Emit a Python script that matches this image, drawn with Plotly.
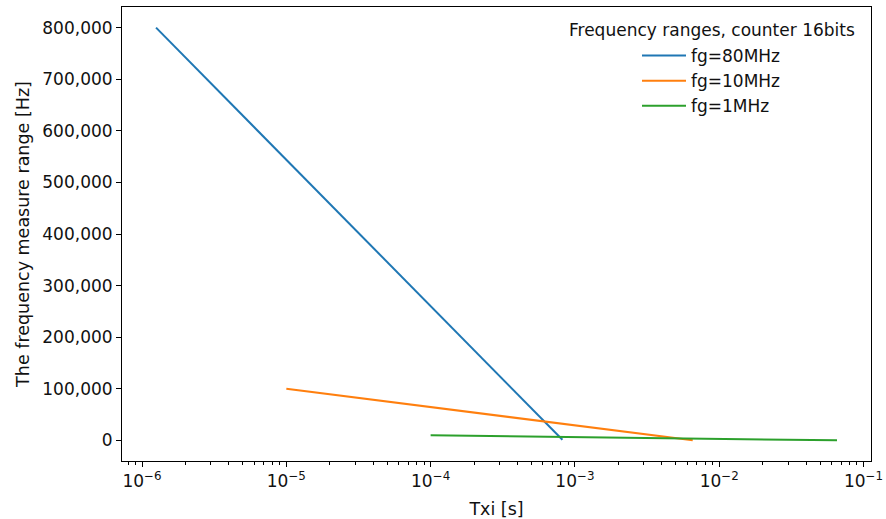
import plotly.graph_objects as go

# Data (Txi [s] vs. frequency measure range [Hz])
names = ["fg=80MHz", "fg=10MHz", "fg=1MHz"]
colors = ["#1f77b4", "#ff7f0e", "#2ca02c"]
txi_80 = [1.25e-6, 8.192e-4]
f_80 = [800000, 1220.7]
txi_10 = [1.0e-5, 6.5536e-3]
f_10 = [100000, 152.6]
txi_1 = [1.0e-4, 6.5536e-2]
f_1 = [10000, 15.26]
y_ticks = [0, 100000, 200000, 300000, 400000, 500000, 600000, 700000, 800000]
x_ticks = [1e-6, 1e-5, 1e-4, 1e-3, 1e-2, 1e-1]
x_tick_text = ["10<sup>−6</sup>", "10<sup>−5</sup>", "10<sup>−4</sup>",
               "10<sup>−3</sup>", "10<sup>−2</sup>", "10<sup>−1</sup>"]

series_x = [txi_80, txi_10, txi_1]
series_y = [f_80, f_10, f_1]

fig = go.Figure()
for n, c, xs, ys in zip(names, colors, series_x, series_y):
    fig.add_trace(go.Scatter(x=xs, y=ys, mode="lines", name=n,
                             line=dict(color=c, width=2)))

FONT = "DejaVu Sans"
L, R, T, B = 122, 15, 7, 58
pw, ph = 886 - L - R, 519 - T - B

fig.update_layout(
    width=886, height=519,
    margin=dict(l=L, r=R, t=T, b=B, autoexpand=False),
    paper_bgcolor="white", plot_bgcolor="white",
    font=dict(family=FONT, size=17, color="#111"),
    showlegend=True,
    legend=dict(x=(637 - L) / pw, y=(461 - 38) / ph, xanchor="left", yanchor="top",
                bgcolor="rgba(0,0,0,0)", borderwidth=0,
                font=dict(size=17), tracegroupgap=0, itemwidth=44),
    annotations=[dict(text="Frequency ranges, counter 16bits",
                      x=(712 - L) / pw, y=(461 - 30) / ph,
                      xref="paper", yref="paper", showarrow=False,
                      xanchor="center", yanchor="middle", font=dict(size=17))],
)

fig.update_xaxes(
    type="log", range=[-6.139, -0.948], automargin=False,
    tickvals=x_ticks, ticktext=x_tick_text,
    ticks="outside", ticklen=5, tickwidth=1, tickcolor="black",
    tickfont=dict(size=17),
    showline=True, linecolor="black", linewidth=1, mirror=True,
    showgrid=False, zeroline=False,
    minor=dict(ticks="outside", ticklen=3, tickcolor="black", dtick="D1", showgrid=False),
    title=dict(text="Txi [s]", standoff=12, font=dict(size=17.5)),
)
fig.update_yaxes(
    range=[-39984, 839999], automargin=False,
    tickvals=y_ticks, tickformat=",",
    ticks="outside", ticklen=5, tickwidth=1, tickcolor="black",
    tickfont=dict(size=17),
    showline=True, linecolor="black", linewidth=1, mirror=True,
    showgrid=False, zeroline=False,
    title=dict(text="The frequency measure range [Hz]", standoff=8, font=dict(size=17.5)),
)

fig.write_html("out.html", config={"displayModeBar": False},
               post_script="document.body.style.margin='0px';")
